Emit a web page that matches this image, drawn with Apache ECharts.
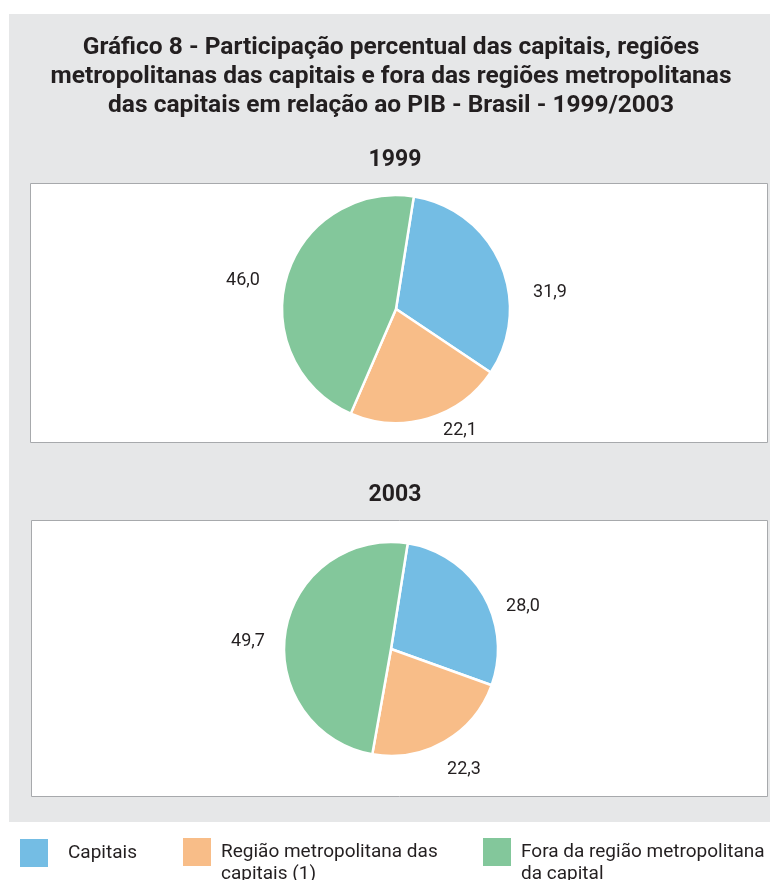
<!DOCTYPE html>
<html>
<head>
<meta charset="utf-8">
<script src="https://cdn.jsdelivr.net/npm/echarts@6/dist/echarts.min.js"></script>
<style>
  html, body { margin: 0; padding: 0; background: #fff; }
  #chart { width: 770px; height: 880px; }
</style>
</head>
<body>
<div id="chart"></div>
<script>
// dados do gráfico
var categories = ['Capitais', 'Região metropolitana das capitais (1)', 'Fora da região metropolitana da capital']
var years = ['1999', '2003']
var values1999 = [31.9, 22.1, 46.0]
var values2003 = [28.0, 22.3, 49.7]

var colors = ['#74bde4', '#f8bd88', '#83c79b']
var fontFam = "'Roboto', 'Liberation Sans', sans-serif"

// texto da legenda (linha vazia no início para alinhar a 1a linha com o ícone)
var legendText = {
  'Capitais': 'Capitais',
  'Região metropolitana das capitais (1)': '\nRegião metropolitana das\ncapitais (1)',
  'Fora da região metropolitana da capital': '\nFora da região metropolitana\nda capital'
}

// posição dos rótulos em relação ao centro de cada pizza
var labelShift = [
  [[154, -17], [64, 121], [-153, -29]],
  [[132, -43], [73, 120], [-143, -8]]
]
var pieCenter = [[396, 309], [391, 649]]
var pieRadius = [114, 107]

function fmt(v) {
  return v.toFixed(1).replace('.', ',')
}

function makePie(idx, values) {
  return {
    type: 'pie',
    name: years[idx],
    center: pieCenter[idx],
    radius: pieRadius[idx],
    startAngle: 81,
    clockwise: true,
    animation: false,
    silent: true,
    itemStyle: { borderColor: '#fff', borderWidth: 2.5 },
    label: {
      show: true,
      position: 'outside',
      formatter: function (p) { return fmt(p.value) },
      fontFamily: fontFam,
      fontSize: 18,
      color: '#231f20'
    },
    labelLine: { show: false },
    labelLayout: function (p) {
      var s = labelShift[idx][p.dataIndex]
      return {
        x: pieCenter[idx][0] + s[0],
        y: pieCenter[idx][1] + s[1],
        align: 'center',
        verticalAlign: 'middle'
      }
    },
    data: categories.map(function (c, i) {
      return { name: c, value: values[i] }
    })
  }
}

function makeLegend(i, left) {
  var twoLines = legendText[categories[i]].indexOf('\n') >= 0
  return {
    data: [categories[i]],
    left: left,
    top: twoLines ? 819 : 837,
    padding: 0,
    orient: 'horizontal',
    icon: 'rect',
    itemWidth: 30,
    itemHeight: 30,
    selectedMode: false,
    formatter: function (n) { return legendText[n] },
    textStyle: {
      fontFamily: fontFam,
      fontSize: 19,
      lineHeight: 22,
      color: '#231f20',
      padding: twoLines ? [0, 0, 0, 4] : [0, 0, 0, 14]
    }
  }
}

var option = {
  color: colors,
  backgroundColor: '#fff',
  animation: false,
  graphic: [
    { type: 'rect', shape: { x: 9, y: 14, width: 770, height: 808 }, style: { fill: '#e6e7e8' }, z: -10 },
    { type: 'rect', shape: { x: 30.5, y: 183.5, width: 737, height: 259 }, style: { fill: '#fff', stroke: '#a7a9ac', lineWidth: 1 }, z: -9 },
    { type: 'rect', shape: { x: 31.5, y: 520.5, width: 736, height: 276 }, style: { fill: '#fff', stroke: '#a7a9ac', lineWidth: 1 }, z: -9 },
    {
      type: 'text', x: 391, y: 77, z: 5,
      style: {
        text: 'Gráfico 8 - Participação percentual das capitais, regiões\nmetropolitanas das capitais e fora das regiões metropolitanas\ndas capitais em relação ao PIB - Brasil - 1999/2003',
        font: 'bold 24.5px ' + fontFam,
        lineHeight: 29,
        align: 'center',
        verticalAlign: 'middle',
        fill: '#231f20'
      }
    },
    { type: 'text', x: 395, y: 160, z: 5, style: { text: years[0], font: 'bold 23px ' + fontFam, align: 'center', verticalAlign: 'middle', fill: '#231f20' } },
    { type: 'text', x: 395, y: 495, z: 5, style: { text: years[1], font: 'bold 23px ' + fontFam, align: 'center', verticalAlign: 'middle', fill: '#231f20' } }
  ],
  legend: [makeLegend(0, 18), makeLegend(1, 181), makeLegend(2, 481)],
  series: [makePie(0, values1999), makePie(1, values2003)]
}

var chartObj = echarts.init(document.getElementById('chart'))
chartObj.setOption(option)
</script>
</body>
</html>
